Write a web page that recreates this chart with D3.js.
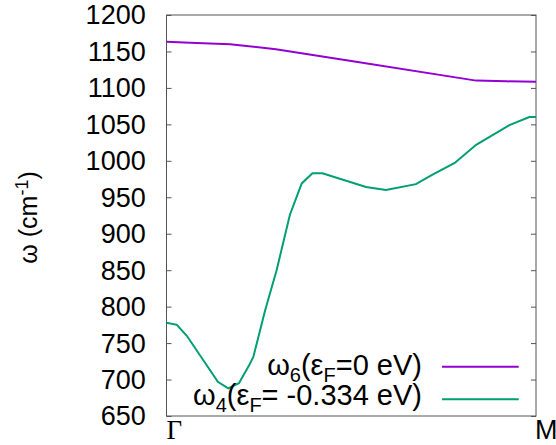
<!DOCTYPE html>
<html><head><meta charset="utf-8">
<script src="https://cdn.jsdelivr.net/npm/d3@7"></script>
<style>body{margin:0;background:#fff}svg{display:block}</style>
</head><body>
<script>
const yTicks = [650,700,750,800,850,900,950,1000,1050,1100,1150,1200];
const xLabels = ["Γ","M"];
const k6 = [0, 0.064, 0.172, 0.296, 0.5, 0.838, 0.92, 1.0];
const w6 = [1163.4, 1162, 1160, 1153, 1137, 1110, 1109, 1108.5];
const k4 = [0, 0.028, 0.055, 0.139, 0.167, 0.196, 0.224, 0.235, 0.267, 0.298, 0.334, 0.366, 0.395, 0.422, 0.540, 0.594, 0.675, 0.720, 0.78, 0.838, 0.928, 0.982, 1.0];
const w4 = [778, 775, 760, 697, 688, 695, 720, 731, 795, 850, 926, 969, 983, 983, 964, 960, 968, 981, 997, 1022, 1049, 1060, 1060];

const W=556,H=445;
const L=166.5,R=536,T=15,B=416;
const svg=d3.select("body").append("svg").attr("width",W).attr("height",H);
const x=d3.scaleLinear().domain([0,1]).range([L,R]);
const y=d3.scaleLinear().domain([650,1200]).range([B,T]);
const font="Liberation Sans, Arial, sans-serif";
const frame="#555";

const ax=svg.append("g").attr("transform",`translate(${L},0)`)
  .call(d3.axisRight(y).tickValues(yTicks).tickSize(5).tickFormat(""));
ax.select(".domain").remove();
ax.selectAll("line").attr("stroke",frame);
const ax2=svg.append("g").attr("transform",`translate(${R},0)`)
  .call(d3.axisLeft(y).tickValues(yTicks).tickSize(5).tickFormat(""));
ax2.select(".domain").remove();
ax2.selectAll("line").attr("stroke",frame);

svg.append("g").selectAll("text").data(yTicks).join("text")
  .attr("x",145.7).attr("y",d=>y(d)).attr("dy","0.35em")
  .attr("text-anchor","end").attr("font-family",font).attr("font-size",27)
  .attr("fill","#000").text(d=>d);

svg.append("rect").attr("x",L).attr("y",T).attr("width",R-L).attr("height",B-T)
  .attr("fill","none").attr("stroke",frame).attr("stroke-width",1);

svg.append("text").attr("x",x(0)).attr("y",438.5).attr("font-family","Liberation Serif, Times New Roman, serif")
  .attr("font-size",27).text(xLabels[0]);
svg.append("text").attr("x",x(1)-1).attr("y",438.5).attr("font-family",font)
  .attr("font-size",27).text(xLabels[1]);

svg.append("text").attr("transform",`translate(37,${(T+B)/2+2}) rotate(-90)`)
  .attr("text-anchor","middle").attr("font-family",font).attr("font-size",25)
  .html('ω (cm<tspan dy="-9" font-size="18">-1</tspan><tspan dy="9">)</tspan>');

const line=d3.line().x(d=>x(d[0])).y(d=>y(d[1]));
svg.append("clipPath").attr("id","c").append("rect").attr("x",L).attr("y",T).attr("width",R-L).attr("height",B-T);
svg.append("path").datum(d3.zip(k6,w6)).attr("d",line).attr("fill","none")
  .attr("stroke","#9400d3").attr("stroke-width",2).attr("clip-path","url(#c)");
svg.append("path").datum(d3.zip(k4,w4)).attr("d",line).attr("fill","none")
  .attr("stroke","#009e73").attr("stroke-width",2).attr("clip-path","url(#c)");

const leg=[
 {html:'ω<tspan dy="7" font-size="20">6</tspan><tspan dy="-7">(ε</tspan><tspan dy="7" font-size="20">F</tspan><tspan dy="-7">=0 eV)</tspan>', y:375, c:"#9400d3", ly:366.7},
 {html:'ω<tspan dy="7" font-size="20">4</tspan><tspan dy="-7">(ε</tspan><tspan dy="7" font-size="20">F</tspan><tspan dy="-7">= -0.334 eV)</tspan>', y:404.5, c:"#009e73", ly:399.3}
];
leg.forEach(d=>{
  svg.append("text").attr("x",422).attr("y",d.y).attr("text-anchor","end")
    .attr("font-family",font).attr("font-size",29).html(d.html);
  svg.append("line").attr("x1",442).attr("x2",518.7).attr("y1",d.ly).attr("y2",d.ly)
    .attr("stroke",d.c).attr("stroke-width",2);
});
</script>
</body></html>
